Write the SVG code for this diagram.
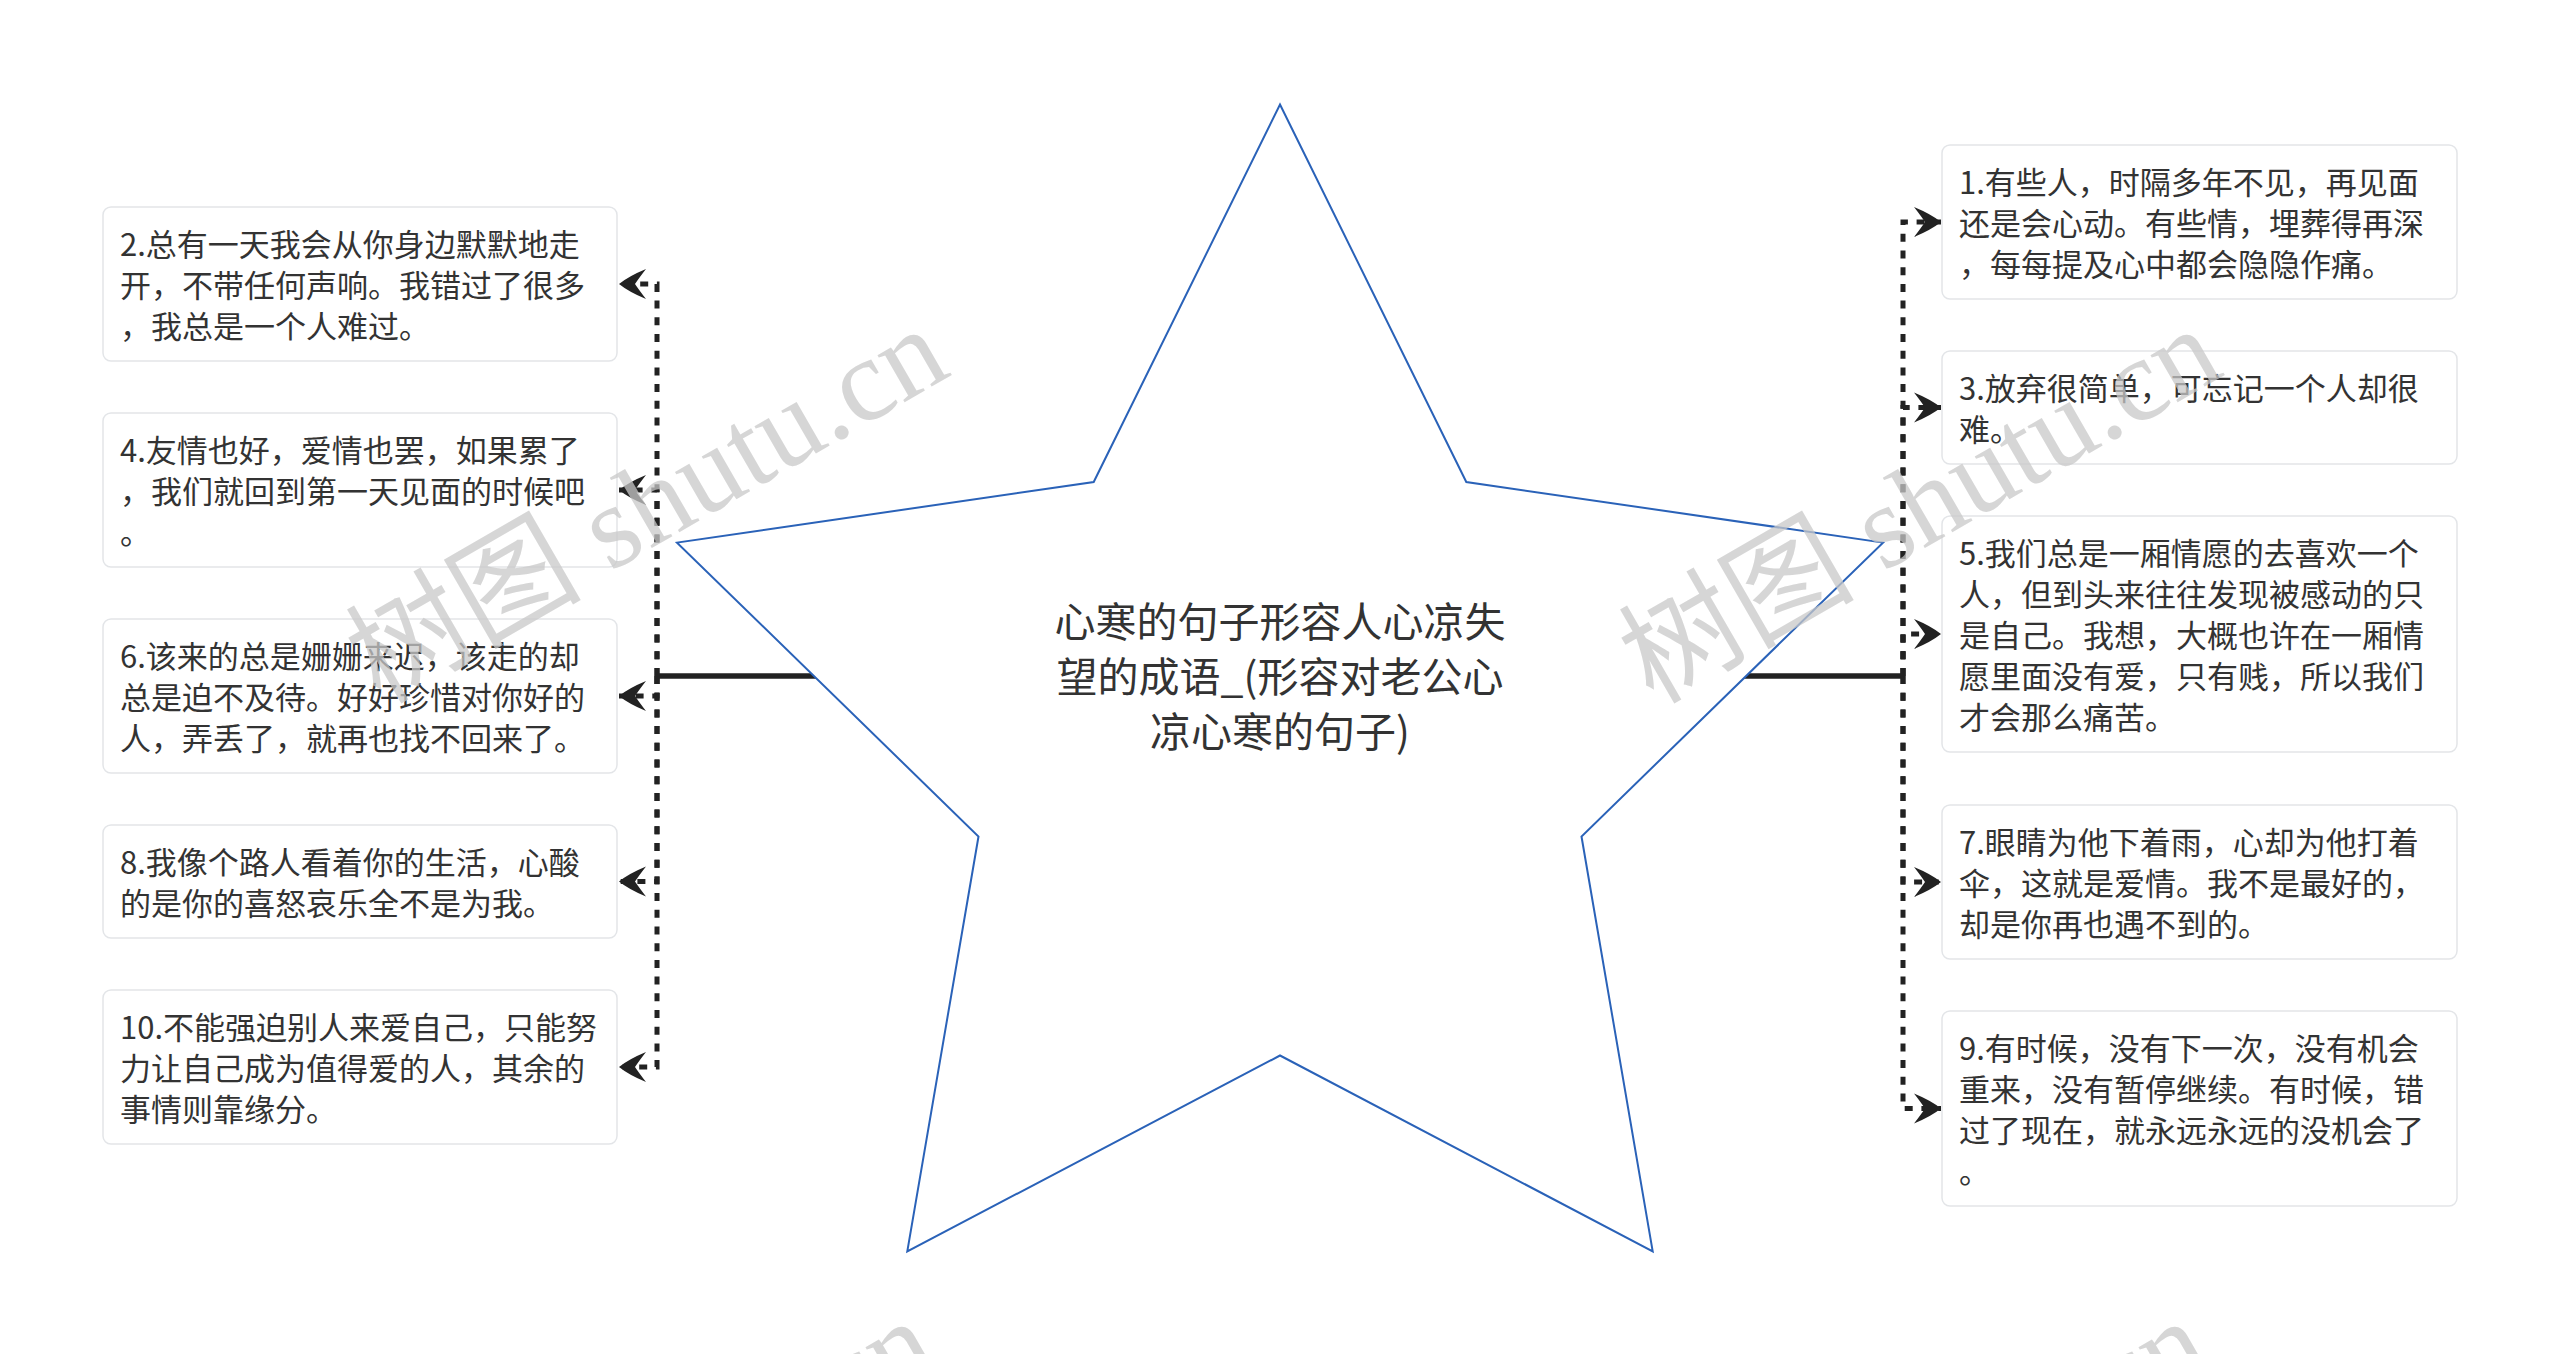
<svg xmlns="http://www.w3.org/2000/svg" width="2560" height="1354" viewBox="0 0 2560 1354">
<style>
.box{fill:#fff;stroke:#e3e5e8;stroke-width:1.5}
.t{font-family:"Noto Sans CJK SC","Microsoft YaHei",sans-serif;font-size:31px;fill:#333}
.ct{font-family:"Noto Sans CJK SC","Microsoft YaHei",sans-serif;font-size:41px;fill:#333;text-anchor:middle}
.dot{fill:none;stroke:#222;stroke-width:5;stroke-dasharray:8 8.7;marker-end:url(#arr)}
.trunk{fill:none;stroke:#222;stroke-width:5.5}
.wm{font-family:"Liberation Serif","Noto Sans CJK SC",serif;font-size:118px;fill:#c8c8c8;fill-opacity:0.75}
</style>
<defs>
<marker id="arr" viewBox="-30 -18 32 36" markerWidth="32" markerHeight="36" refX="0" refY="0" orient="auto" markerUnits="userSpaceOnUse">
<path d="M0,0 Q-10,-8 -27,-15 Q-20,-6 -16,0 Q-20,6 -27,15 Q-10,8 0,0 Z" fill="#222"/>
</marker>
</defs>
<rect x="0" y="0" width="2560" height="1354" fill="#fff"/>
<g id="connectors">
<path class="trunk" d="M657,676 H1280"/>
<path class="trunk" d="M1280,676 H1903"/>
<path class="dot" d="M657,676 V284 H619"/>
<path class="dot" d="M657,676 V490 H619"/>
<path class="dot" d="M657,676 V696 H619"/>
<path class="dot" d="M657,676 V881.5 H619"/>
<path class="dot" d="M657,676 V1067 H619"/>
<path class="dot" d="M1903,676 V222 H1941"/>
<path class="dot" d="M1903,676 V407.5 H1941"/>
<path class="dot" d="M1903,676 V634 H1941"/>
<path class="dot" d="M1903,676 V882 H1941"/>
<path class="dot" d="M1903,676 V1108.5 H1941"/>
</g>
<g id="center">
<polygon points="1280,104.5 1466.3,482 1883,542.6 1581.5,836.5 1652.7,1251.4 1280,1055.5 907.3,1251.4 978.5,836.5 677,542.6 1093.7,482" fill="#fff" stroke="#2a62b8" stroke-width="2"/>
<text class="ct" x="1280" y="637">心寒的句子形容人心凉失</text>
<text class="ct" x="1280" y="692">望的成语_(形容对老公心</text>
<text class="ct" x="1280" y="747">凉心寒的句子)</text>
</g>
<g id="n2">
<rect class="box" x="103" y="207" width="514" height="154" rx="8"/>
<text class="t" x="120" y="256">2.总有一天我会从你身边默默地走</text>
<text class="t" x="120" y="297">开，不带任何声响。我错过了很多</text>
<text class="t" x="120" y="338">，我总是一个人难过。</text>
</g>
<g id="n4">
<rect class="box" x="103" y="413" width="514" height="154" rx="8"/>
<text class="t" x="120" y="462">4.友情也好，爱情也罢，如果累了</text>
<text class="t" x="120" y="503">，我们就回到第一天见面的时候吧</text>
<text class="t" x="120" y="544">。</text>
</g>
<g id="n6">
<rect class="box" x="103" y="619" width="514" height="154" rx="8"/>
<text class="t" x="120" y="668">6.该来的总是姗姗来迟，该走的却</text>
<text class="t" x="120" y="709">总是迫不及待。好好珍惜对你好的</text>
<text class="t" x="120" y="750">人，弄丢了，就再也找不回来了。</text>
</g>
<g id="n8">
<rect class="box" x="103" y="825" width="514" height="113" rx="8"/>
<text class="t" x="120" y="874">8.我像个路人看着你的生活，心酸</text>
<text class="t" x="120" y="915">的是你的喜怒哀乐全不是为我。</text>
</g>
<g id="n10">
<rect class="box" x="103" y="990" width="514" height="154" rx="8"/>
<text class="t" x="120" y="1039">10.不能强迫别人来爱自己，只能努</text>
<text class="t" x="120" y="1080">力让自己成为值得爱的人，其余的</text>
<text class="t" x="120" y="1121">事情则靠缘分。</text>
</g>
<g id="n1">
<rect class="box" x="1942" y="145" width="515" height="154" rx="8"/>
<text class="t" x="1959" y="194">1.有些人，时隔多年不见，再见面</text>
<text class="t" x="1959" y="235">还是会心动。有些情，埋葬得再深</text>
<text class="t" x="1959" y="276">，每每提及心中都会隐隐作痛。</text>
</g>
<g id="n3">
<rect class="box" x="1942" y="351" width="515" height="113" rx="8"/>
<text class="t" x="1959" y="400">3.放弃很简单，可忘记一个人却很</text>
<text class="t" x="1959" y="441">难。</text>
</g>
<g id="n5">
<rect class="box" x="1942" y="516" width="515" height="236" rx="8"/>
<text class="t" x="1959" y="565">5.我们总是一厢情愿的去喜欢一个</text>
<text class="t" x="1959" y="606">人，但到头来往往发现被感动的只</text>
<text class="t" x="1959" y="647">是自己。我想，大概也许在一厢情</text>
<text class="t" x="1959" y="688">愿里面没有爱，只有贱，所以我们</text>
<text class="t" x="1959" y="729">才会那么痛苦。</text>
</g>
<g id="n7">
<rect class="box" x="1942" y="805" width="515" height="154" rx="8"/>
<text class="t" x="1959" y="854">7.眼睛为他下着雨，心却为他打着</text>
<text class="t" x="1959" y="895">伞，这就是爱情。我不是最好的，</text>
<text class="t" x="1959" y="936">却是你再也遇不到的。</text>
</g>
<g id="n9">
<rect class="box" x="1942" y="1011" width="515" height="195" rx="8"/>
<text class="t" x="1959" y="1060">9.有时候，没有下一次，没有机会</text>
<text class="t" x="1959" y="1101">重来，没有暂停继续。有时候，错</text>
<text class="t" x="1959" y="1142">过了现在，就永远永远的没机会了</text>
<text class="t" x="1959" y="1183">。</text>
</g>
<g id="watermark">
<text class="wm" transform="translate(380,705) rotate(-30)">树图 shutu.cn</text>
<text class="wm" transform="translate(1653,705) rotate(-30)">树图 shutu.cn</text>
<text class="wm" transform="translate(368,1697) rotate(-30)">树图 shutu.cn</text>
<text class="wm" transform="translate(1641,1697) rotate(-30)">树图 shutu.cn</text>
</g>
</svg>
